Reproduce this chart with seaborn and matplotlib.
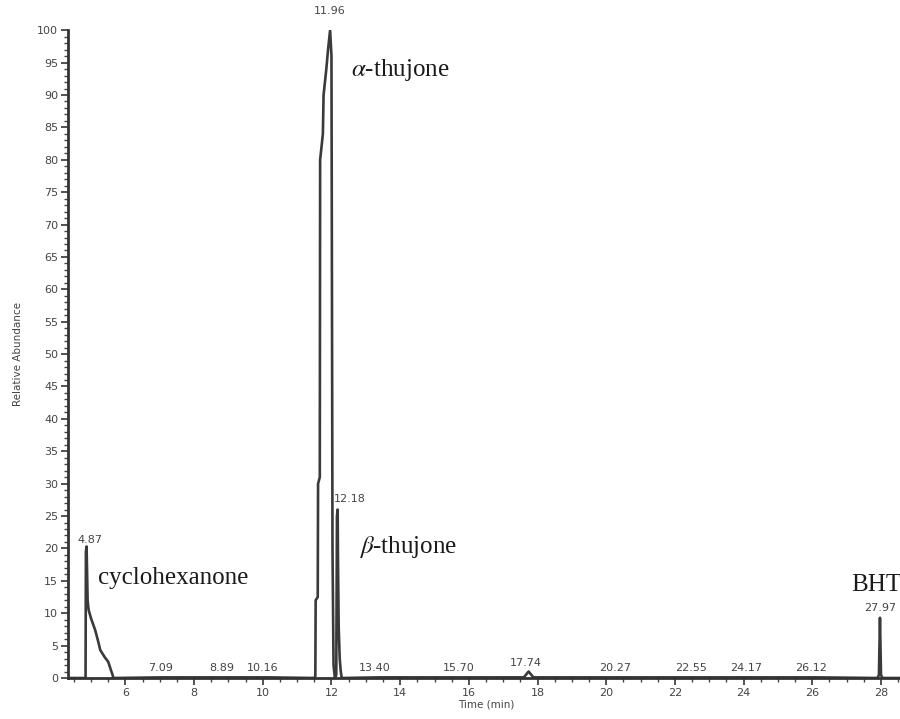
import matplotlib
matplotlib.use("Agg")
import matplotlib.pyplot as plt
from matplotlib.ticker import MultipleLocator
import seaborn as sns
import pandas as pd

# chromatogram trace (retention time in min, relative abundance in %)
time_min = [4.33, 4.84, 4.85, 4.87, 4.90, 4.93, 5.00, 5.12, 5.20, 5.27, 5.40, 5.50, 5.58, 5.62, 5.65,
            7.09, 8.89, 10.16, 11.50, 11.53, 11.54, 11.60, 11.61, 11.66, 11.67, 11.75, 11.77, 11.85,
            11.90, 11.96, 12.00, 12.01, 12.03, 12.06, 12.10, 12.14, 12.16, 12.18, 12.19, 12.21,
            12.24, 12.27, 12.30, 13.40, 15.70, 17.60, 17.74, 17.88, 20.27, 22.55, 24.17, 26.12,
            27.90, 27.94, 27.97, 28.00, 28.04, 28.70]
abundance = [0.0, 0.0, 19.5, 20.3, 12.0, 10.5, 9.2, 7.4, 5.8, 4.3, 3.2, 2.5, 1.2, 0.6, 0.0,
             0.1, 0.1, 0.1, 0.0, 0.3, 12.0, 12.5, 30.0, 31.0, 80.0, 84.0, 90.0, 94.0,
             97.0, 100.0, 96.0, 70.0, 20.0, 2.0, 0.0, 0.5, 25.0, 26.0, 18.0, 8.0,
             3.0, 1.0, 0.0, 0.1, 0.1, 0.1, 1.0, 0.1, 0.1, 0.1, 0.1, 0.1,
             0.0, 0.5, 9.3, 0.5, 0.0, 0.0]

# retention time labels: text, x, y
rt_labels = ["4.87", "11.96", "12.18", "7.09", "8.89", "10.16", "13.40", "15.70",
             "17.74", "20.27", "22.55", "24.17", "26.12", "27.97"]
rt_x = [4.97, 11.96, 12.52, 7.03, 8.80, 10.00, 13.27, 15.70, 17.67, 20.26, 22.46, 24.07, 25.95, 27.97]
rt_y = [20.6, 102.2, 26.8, 0.7, 0.7, 0.7, 0.7, 0.7, 1.5, 0.7, 0.7, 0.7, 0.7, 10.0]

# compound names
compounds = [r"$\it{\alpha}$-thujone", r"$\it{\beta}$-thujone", "cyclohexanone", "BHT"]
comp_x = [12.56, 12.80, 5.21, 27.12]
comp_y = [93.8, 20.2, 15.4, 14.3]

df = pd.DataFrame({"Time": time_min, "Abundance": abundance})

sns.set_style("ticks")
plt.rcParams["font.family"] = ["DejaVu Sans"]
plt.rcParams["mathtext.fontset"] = "stix"

fig = plt.figure(figsize=(9, 7.19), dpi=100)
ax = fig.add_axes([0.0756, 0.057, 0.93, 0.901])

sns.lineplot(data=df, x="Time", y="Abundance", ax=ax, sort=False, estimator=None,
             color="#3a3a3a", linewidth=1.9)

ax.set_xlim(4.33, 28.70)
ax.set_ylim(0, 100)
ax.xaxis.set_major_locator(MultipleLocator(2))
ax.xaxis.set_minor_locator(MultipleLocator(0.5))
ax.yaxis.set_major_locator(MultipleLocator(5))
ax.yaxis.set_minor_locator(MultipleLocator(1))
ax.set_xticks([6, 8, 10, 12, 14, 16, 18, 20, 22, 24, 26, 28])
ax.tick_params(axis="both", which="major", length=5, width=1.3, labelsize=8,
               colors="#444444", pad=2)
ax.tick_params(axis="both", which="minor", length=3, width=1.0, colors="#444444")

sns.despine(ax=ax)
for side in ["left", "bottom"]:
    ax.spines[side].set_linewidth(2.0)
    ax.spines[side].set_color("#333333")

ax.set_xlabel("Time (min)", fontsize=7.5, color="#444444", labelpad=1)
ax.set_ylabel("Relative Abundance", fontsize=7.5, color="#444444", labelpad=10)

for t, x, y in zip(rt_labels, rt_x, rt_y):
    ax.text(x, y, t, ha="center", va="bottom", fontsize=8, color="#444444", clip_on=False)

for t, x, y in zip(compounds, comp_x, comp_y):
    ax.text(x, y, t, ha="left", va="center", fontsize=18, color="#1a1a1a",
            family="Liberation Serif", clip_on=False)

fig.savefig("out.png", dpi=100)
